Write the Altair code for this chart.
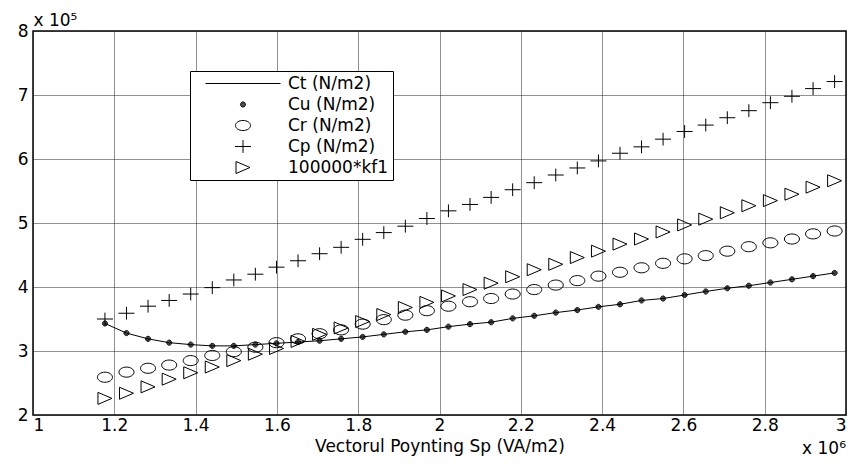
import altair as alt
import pandas as pd

# x values (Sp, units of 1e6 VA/m2)
sp = [1.177, 1.230, 1.283, 1.335, 1.388, 1.441, 1.494, 1.547, 1.599, 1.652,
      1.705, 1.758, 1.811, 1.863, 1.916, 1.969, 2.022, 2.075, 2.127, 2.180,
      2.233, 2.286, 2.339, 2.391, 2.444, 2.497, 2.550, 2.603, 2.655, 2.708,
      2.761, 2.814, 2.867, 2.919, 2.972]

# series values (units of 1e5 N/m2)
ct = [3.43, 3.28, 3.19, 3.13, 3.10, 3.08, 3.08, 3.10, 3.12, 3.14,
      3.16, 3.19, 3.22, 3.26, 3.30, 3.33, 3.38, 3.42, 3.45, 3.51,
      3.55, 3.60, 3.64, 3.69, 3.73, 3.79, 3.82, 3.875, 3.93, 3.98,
      4.02, 4.07, 4.12, 4.17, 4.22]
cu = [3.43, 3.28, 3.19, 3.13, 3.10, 3.08, 3.08, 3.10, 3.12, 3.14,
      3.16, 3.19, 3.22, 3.26, 3.30, 3.33, 3.38, 3.42, 3.45, 3.51,
      3.55, 3.60, 3.64, 3.69, 3.73, 3.79, 3.82, 3.875, 3.93, 3.98,
      4.02, 4.07, 4.12, 4.17, 4.22]
cr = [2.59, 2.67, 2.73, 2.78, 2.85, 2.93, 2.99, 3.06, 3.13, 3.19,
      3.27, 3.33, 3.42, 3.49, 3.56, 3.63, 3.70, 3.77, 3.82, 3.89,
      3.96, 4.03, 4.10, 4.17, 4.23, 4.30, 4.37, 4.44, 4.49, 4.56,
      4.63, 4.69, 4.75, 4.83, 4.875]
cp = [3.50, 3.59, 3.70, 3.79, 3.89, 3.99, 4.11, 4.20, 4.31, 4.41,
      4.52, 4.62, 4.745, 4.85, 4.95, 5.07, 5.19, 5.29, 5.40, 5.52,
      5.63, 5.75, 5.86, 5.97, 6.09, 6.19, 6.31, 6.43, 6.53, 6.645,
      6.755, 6.88, 6.98, 7.10, 7.21]
kf1 = [2.26, 2.34, 2.44, 2.56, 2.66, 2.75, 2.85, 2.95, 3.04, 3.15,
       3.26, 3.36, 3.46, 3.57, 3.68, 3.76, 3.86, 3.96, 4.06, 4.16,
       4.27, 4.355, 4.46, 4.56, 4.67, 4.75, 4.86, 4.97, 5.06, 5.16,
       5.27, 5.35, 5.45, 5.56, 5.66]

series_names = ["Ct (N/m2)", "Cu (N/m2)", "Cr (N/m2)", "Cp (N/m2)", "100000*kf1"]
x_ticks = [1.0, 1.2, 1.4, 1.6, 1.8, 2.0, 2.2, 2.4, 2.6, 2.8, 3.0]
y_ticks = [2, 3, 4, 5, 6, 7, 8]
x_title = "Vectorul Poynting Sp (VA/m2)"
y_exp = "x 10\u2075"
x_exp = "x 10\u2076"

FONT = "DejaVu Sans"
FS = 17

line_df = pd.DataFrame({"sp": sp, "val": ct})
rows = []
for name, vals in zip(series_names[1:], [cu, cr, cp, kf1]):
    for x, y in zip(sp, vals):
        rows.append({"sp": x, "val": y, "series": name})
pts_df = pd.DataFrame(rows)


def ring(rx, ry):
    return (f"M{-rx},0A{rx},{ry},0,1,1,{rx},0"
            f"A{rx},{ry},0,1,1,{-rx},0Z")


SHAPES = [
    "M-4.69,0H4.69",
    ring(0.32, 0.32) + ring(0.22, 0.22) + ring(0.12, 0.12),
    ring(0.94, 0.63),
    "M-1,0H1M0,-0.8V0.8",
    "M-0.875,-0.75L0.875,0L-0.875,0.75Z",
]

NBSP = "\u00a0" * 5

xenc = alt.X("sp:Q",
             scale=alt.Scale(domain=[1, 3], nice=False, zero=False),
             axis=alt.Axis(values=x_ticks, format="~g", title=x_title,
                           labelPadding=2, titlePadding=5))
yenc = alt.Y("val:Q",
             scale=alt.Scale(domain=[2, 8], nice=False, zero=False),
             axis=alt.Axis(values=y_ticks, format="~g", title=y_exp,
                           titleAngle=0, titleAlign="left",
                           titleBaseline="alphabetic", titleX=0, titleY=-6,
                           labelPadding=5))

line = alt.Chart(line_df).mark_line(color="black", strokeWidth=1).encode(
    x=xenc, y=yenc)

points = alt.Chart(pts_df).mark_point(
    filled=False, size=256, strokeWidth=1, color="black", opacity=1
).encode(
    x=xenc, y=yenc,
    shape=alt.Shape("series:N",
                    scale=alt.Scale(domain=series_names, range=SHAPES),
                    legend=alt.Legend(title=None,
                                      labelExpr="datum.label + '" + NBSP + "'",
                                      symbolStrokeColor="black")),
)

chart = alt.layer(line, points).properties(
    width=813, height=384,
    autosize=alt.AutoSizeParams(type="none"),
    padding={"left": 33, "top": 31, "right": 7, "bottom": 50},
    title=alt.TitleParams(text=x_exp, orient="bottom", anchor="end",
                          frame="group", fontSize=FS, fontWeight="normal",
                          font=FONT, color="black", offset=-13),
).configure_view(
    stroke="black", strokeWidth=1.5
).configure_axis(
    grid=True, gridColor="#222", gridDash=[1, 1], gridWidth=1,
    domain=False, ticks=False,
    labelFont=FONT, labelFontSize=FS, labelColor="black",
    titleFont=FONT, titleFontSize=FS, titleFontWeight="normal",
    titleColor="black",
).configure_legend(
    orient="none", legendX=157, legendY=40,
    padding=4, rowPadding=3,
    strokeColor="black", strokeWidth=1, fillColor="white", cornerRadius=0,
    labelFont=FONT, labelFontSize=FS, labelColor="black",
    symbolOffset=40.5, labelOffset=36.5,
    symbolSize=256, symbolStrokeWidth=1, symbolStrokeColor="black",
)

chart.save("out.html", embed_options={"renderer": "svg", "actions": False})
